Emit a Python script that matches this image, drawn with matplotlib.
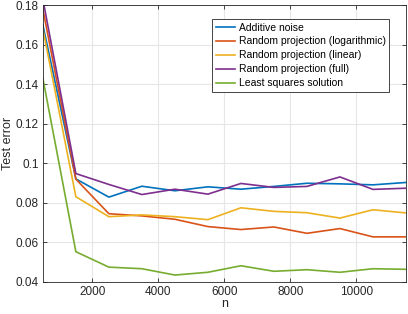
import numpy as np
import matplotlib.pyplot as plt

plt.rcParams['font.family'] = ['Liberation Sans', 'DejaVu Sans']

n = [500, 1500, 2500, 3500, 4500, 5500, 6500, 7500, 8500, 9500, 10500, 11500]
additive = [0.170, 0.0921, 0.0829, 0.0884, 0.0861, 0.0881, 0.0869, 0.0883, 0.0899, 0.0896, 0.0891, 0.0903]
rp_log = [0.178, 0.0920, 0.0745, 0.0734, 0.0717, 0.0680, 0.0665, 0.0678, 0.0646, 0.0670, 0.0628, 0.0628]
rp_lin = [0.168, 0.0831, 0.0730, 0.0739, 0.0730, 0.0715, 0.0775, 0.0757, 0.0750, 0.0723, 0.0765, 0.0749]
rp_full = [0.183, 0.0948, 0.0893, 0.0842, 0.0869, 0.0844, 0.0898, 0.0878, 0.0883, 0.0931, 0.0868, 0.0874]
lsq = [0.143, 0.0553, 0.0475, 0.0467, 0.0435, 0.0449, 0.0482, 0.0454, 0.0462, 0.0449, 0.0467, 0.0464]

labels = ['Additive noise', 'Random projection (logarithmic)', 'Random projection (linear)',
          'Random projection (full)', 'Least squares solution']
colors = ['#0072BD', '#D95319', '#EDB120', '#7E2F8E', '#77AC30']

fig = plt.figure(figsize=(4.08, 3.14), dpi=100)
ax = fig.add_axes([0.105, 0.102, 0.89, 0.882])

for ys, lab, c in zip([additive, rp_log, rp_lin, rp_full, lsq], labels, colors):
    ax.plot(n, ys, color=c, lw=1.2, label=lab)

ax.set_xlim(500, 11500)
ax.set_ylim(0.04, 0.18)
ax.set_xticks([2000, 4000, 6000, 8000, 10000])
ax.set_yticks(np.arange(0.04, 0.181, 0.02))
ax.set_yticklabels(['0.04', '0.06', '0.08', '0.1', '0.12', '0.14', '0.16', '0.18'])
ax.grid(True, color='#e6e6e6', lw=0.8)
ax.set_axisbelow(True)
ax.tick_params(direction='in', top=True, right=True, length=3, labelsize=8.5,
               colors='#262626', width=0.6, pad=3)
for s in ax.spines.values():
    s.set_color('#262626')
    s.set_linewidth(0.6)
ax.set_xlabel('n', fontsize=9, color='#262626', labelpad=0)
ax.set_ylabel('Test error', fontsize=9, color='#262626', labelpad=1)

leg = ax.legend(loc='upper right', bbox_to_anchor=(0.954, 0.95), fontsize=7.5,
                handlelength=1.9, handletextpad=0.3, borderpad=0.35,
                labelspacing=0.38, fancybox=False, framealpha=1, borderaxespad=0)
leg.get_frame().set_edgecolor('#262626')
leg.get_frame().set_linewidth(0.6)

fig.savefig('out.png', dpi=100)
